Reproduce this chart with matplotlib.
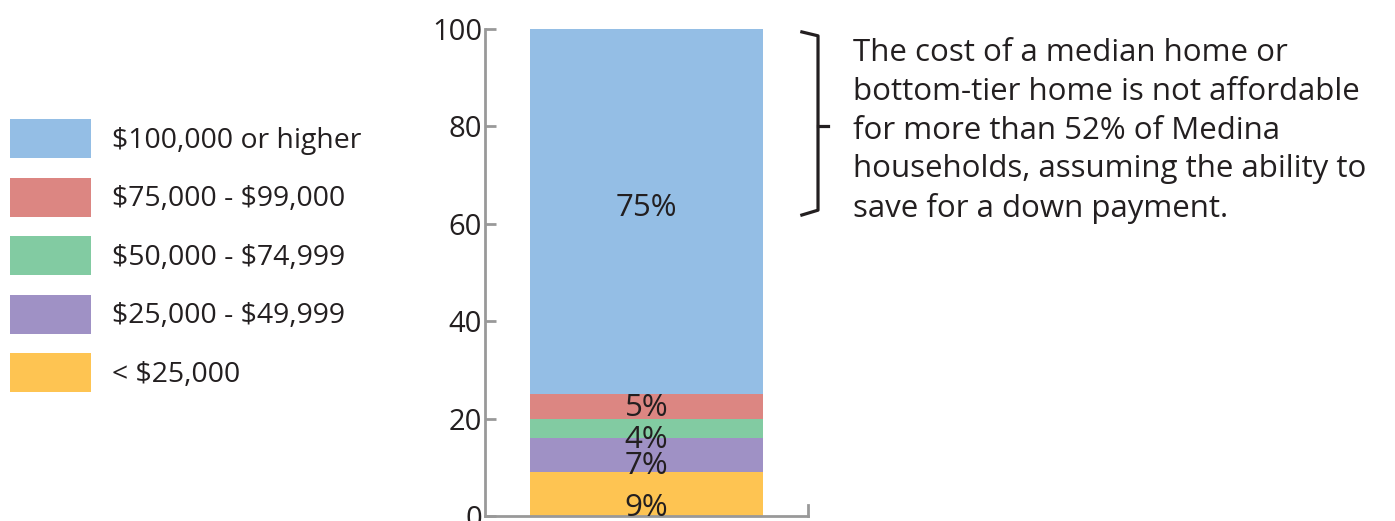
import numpy as np
import matplotlib
matplotlib.use("Agg")
import matplotlib.pyplot as plt
from matplotlib.patches import Patch

plt.rcParams['font.family'] = ['Open Sans', 'DejaVu Sans']

# income brackets, bottom to top
brackets = ['< $25,000', '$25,000 - $49,999', '$50,000 - $74,999',
            '$75,000 - $99,000', '$100,000 or higher']
shares = [9, 7, 4, 5, 75]
share_labels = ['9%', '7%', '4%', '5%', '75%']
colors = ['#FEC452', '#9F91C5', '#82CBA2', '#DC8682', '#94BEE5']
label_nudge = [-2.9, -2.3, -2.4, -0.4, 0.8]

note = ("The cost of a median home or\n"
        "bottom-tier home is not affordable\n"
        "for more than 52% of Medina\n"
        "households, assuming the ability to\n"
        "save for a down payment.")

fig = plt.figure(figsize=(13.95, 5.21), dpi=100)
ax = fig.add_axes([485 / 1395, 5 / 521, 323 / 1395, 487 / 521])

bottoms = np.concatenate([[0], np.cumsum(shares)[:-1]])
ax.bar(0.5, shares, width=0.72, bottom=bottoms, color=colors, linewidth=0)

for b, s, lab, dy in zip(bottoms, shares, share_labels, label_nudge):
    ax.text(0.5, b + s / 2 + dy, lab, ha='center', va='center',
            fontsize=22.5, color='#231f20')

ax.set_xlim(0, 1)
ax.set_ylim(0, 100)
ax.set_xticks([])
ax.set_yticks(range(0, 101, 20))
ax.tick_params(axis='y', direction='in', length=8, width=2, color='#999999',
               labelsize=21, labelcolor='#231f20', pad=2)
for side in ['top', 'right']:
    ax.spines[side].set_visible(False)
for side in ['left', 'bottom']:
    ax.spines[side].set_color('#999999')
    ax.spines[side].set_linewidth(2)
# small end tick on the base line
ax.plot([1, 1], [0, 2.3], color='#999999', lw=2, clip_on=False)

# bracket
ax.plot([0.981, 1.031, 1.031, 0.981], [99.4, 98.6, 62.8, 61.8],
        color='#231f20', lw=2.3, clip_on=False)
ax.plot([1.031, 1.062], [80, 80], color='#231f20', lw=2.3, clip_on=False)
ax.text(1.139, 79, note, ha='left', va='center', fontsize=22.5,
        linespacing=1.38, color='#231f20')

handles = [Patch(facecolor=c, edgecolor='none') for c in colors[::-1]]
labels = [b.replace('$', r'\$') for b in brackets[::-1]]
fig.legend(handles, labels, loc='upper left',
           bbox_to_anchor=(10 / 1395, 1 - 119 / 521), frameon=False,
           fontsize=20.4, handlelength=2.86, handleheight=1.74,
           handletextpad=0.74, labelspacing=0.69, borderpad=0,
           borderaxespad=0, labelcolor='#231f20')

fig.savefig('out.png', dpi=100)
